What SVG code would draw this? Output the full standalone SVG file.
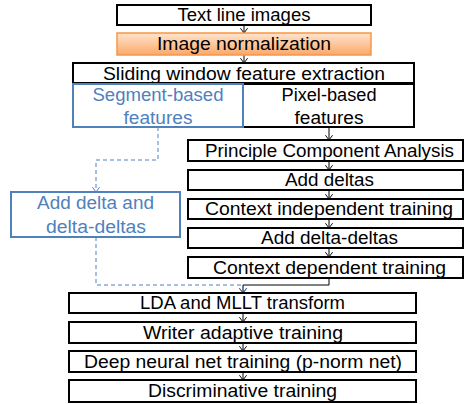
<svg xmlns="http://www.w3.org/2000/svg" width="464" height="404" viewBox="0 0 464 404">
<defs>
<linearGradient id="og" x1="0" y1="0" x2="0" y2="1">
<stop offset="0" stop-color="#FFE3CC"/>
<stop offset="0.5" stop-color="#FDC79D"/>
<stop offset="1" stop-color="#F9A86A"/>
</linearGradient>
<marker id="ak" viewBox="0 0 10 10" refX="8" refY="5" markerWidth="8" markerHeight="8" markerUnits="userSpaceOnUse" orient="auto">
<path d="M2,0.5 L8,5 L2,9.5" fill="none" stroke="#000" stroke-width="1.2"/>
</marker>
<marker id="ab" viewBox="0 0 10 10" refX="8" refY="5" markerWidth="8" markerHeight="8" markerUnits="userSpaceOnUse" orient="auto">
<path d="M2,0.5 L8,5 L2,9.5" fill="none" stroke="#4F81BD" stroke-width="1.2"/>
</marker>
</defs>
<style>
.b{fill:#fff;stroke:#000;stroke-width:2}
.bb{fill:#fff;stroke:#4F81BD;stroke-width:2}
.o{fill:url(#og);stroke:#F79646;stroke-width:1.5}
text{font-family:"Liberation Sans",Arial,sans-serif;font-size:17.5px;text-anchor:middle;fill:#000}
.tb{fill:#4F81BD}
.c{fill:none;stroke:#000;stroke-width:1}
.d{fill:none;stroke:#4F81BD;stroke-width:1;stroke-dasharray:4,3}
</style>
<g id="connectors">
<path class="c" d="M244,25 V33" marker-end="url(#ak)"/>
<path class="c" d="M244,55 V63" marker-end="url(#ak)"/>
<path class="c" d="M329,127 V140" marker-end="url(#ak)"/>
<path class="c" d="M329,161 V170" marker-end="url(#ak)"/>
<path class="c" d="M329,190 V199" marker-end="url(#ak)"/>
<path class="c" d="M329,219 V228" marker-end="url(#ak)"/>
<path class="c" d="M329,248 V257" marker-end="url(#ak)"/>
<path class="c" d="M329,278 V285 H243 V293" marker-end="url(#ak)"/>
<path class="d" d="M158,127 V160 H96 V192" marker-end="url(#ab)"/>
<path class="d" d="M96,237 V285 H243 V293" marker-end="url(#ab)"/>
<path class="c" d="M243,313 V322" marker-end="url(#ak)"/>
<path class="c" d="M243,343 V351" marker-end="url(#ak)"/>
<path class="c" d="M243,372 V380" marker-end="url(#ak)"/>
</g>
<g id="n1"><rect class="b" x="117" y="5" width="254" height="20"/><text x="244" y="21" textLength="133" lengthAdjust="spacingAndGlyphs">Text line images</text></g>
<g id="n2"><rect class="o" x="117" y="33" width="254" height="22"/><text x="244" y="50" textLength="174" lengthAdjust="spacingAndGlyphs">Image normalization</text></g>
<g id="n3"><rect class="b" x="73" y="63" width="341" height="20"/><text x="244" y="79.5" textLength="282" lengthAdjust="spacingAndGlyphs">Sliding window feature extraction</text></g>
<g id="n4"><rect class="b" x="243" y="84" width="171" height="43"/><text x="329" y="101" textLength="95" lengthAdjust="spacingAndGlyphs">Pixel-based</text><text x="329" y="123.5" textLength="69" lengthAdjust="spacingAndGlyphs">features</text></g>
<g id="n5"><rect class="bb" x="73" y="84" width="170" height="43"/><text class="tb" x="158" y="101" textLength="131" lengthAdjust="spacingAndGlyphs">Segment-based</text><text class="tb" x="158" y="123.5" textLength="69" lengthAdjust="spacingAndGlyphs">features</text></g>
<g id="n6"><rect class="b" x="188" y="140" width="275" height="21"/><text x="329.5" y="156.5" textLength="249" lengthAdjust="spacingAndGlyphs">Principle Component Analysis</text></g>
<g id="n7"><rect class="b" x="188" y="170" width="275" height="20"/><text x="329.5" y="186" textLength="89" lengthAdjust="spacingAndGlyphs">Add deltas</text></g>
<g id="n8"><rect class="b" x="188" y="199" width="275" height="20"/><text x="329" y="215" textLength="248" lengthAdjust="spacingAndGlyphs">Context independent training</text></g>
<g id="n9"><rect class="b" x="188" y="228" width="275" height="20"/><text x="329.5" y="244" textLength="137" lengthAdjust="spacingAndGlyphs">Add delta-deltas</text></g>
<g id="n10"><rect class="b" x="188" y="257" width="275" height="21"/><text x="329.5" y="273.5" textLength="233" lengthAdjust="spacingAndGlyphs">Context dependent training</text></g>
<g id="n11"><rect class="bb" x="11" y="192" width="169" height="45"/><text class="tb" x="95.5" y="208.5" textLength="117" lengthAdjust="spacingAndGlyphs">Add delta and</text><text class="tb" x="96" y="233" textLength="100" lengthAdjust="spacingAndGlyphs">delta-deltas</text></g>
<g id="n12"><rect class="b" x="69" y="293" width="347" height="20"/><text x="242.5" y="309" textLength="205" lengthAdjust="spacingAndGlyphs">LDA and MLLT transform</text></g>
<g id="n13"><rect class="b" x="69" y="322" width="347" height="21"/><text x="243" y="338.5" textLength="200" lengthAdjust="spacingAndGlyphs">Writer adaptive training</text></g>
<g id="n14"><rect class="b" x="69" y="351" width="347" height="21"/><text x="243" y="367.5" textLength="318" lengthAdjust="spacingAndGlyphs">Deep neural net training (p-norm net)</text></g>
<g id="n15"><rect class="b" x="69" y="380" width="347" height="22"/><text x="242.5" y="397" textLength="189" lengthAdjust="spacingAndGlyphs">Discriminative training</text></g>
</svg>
